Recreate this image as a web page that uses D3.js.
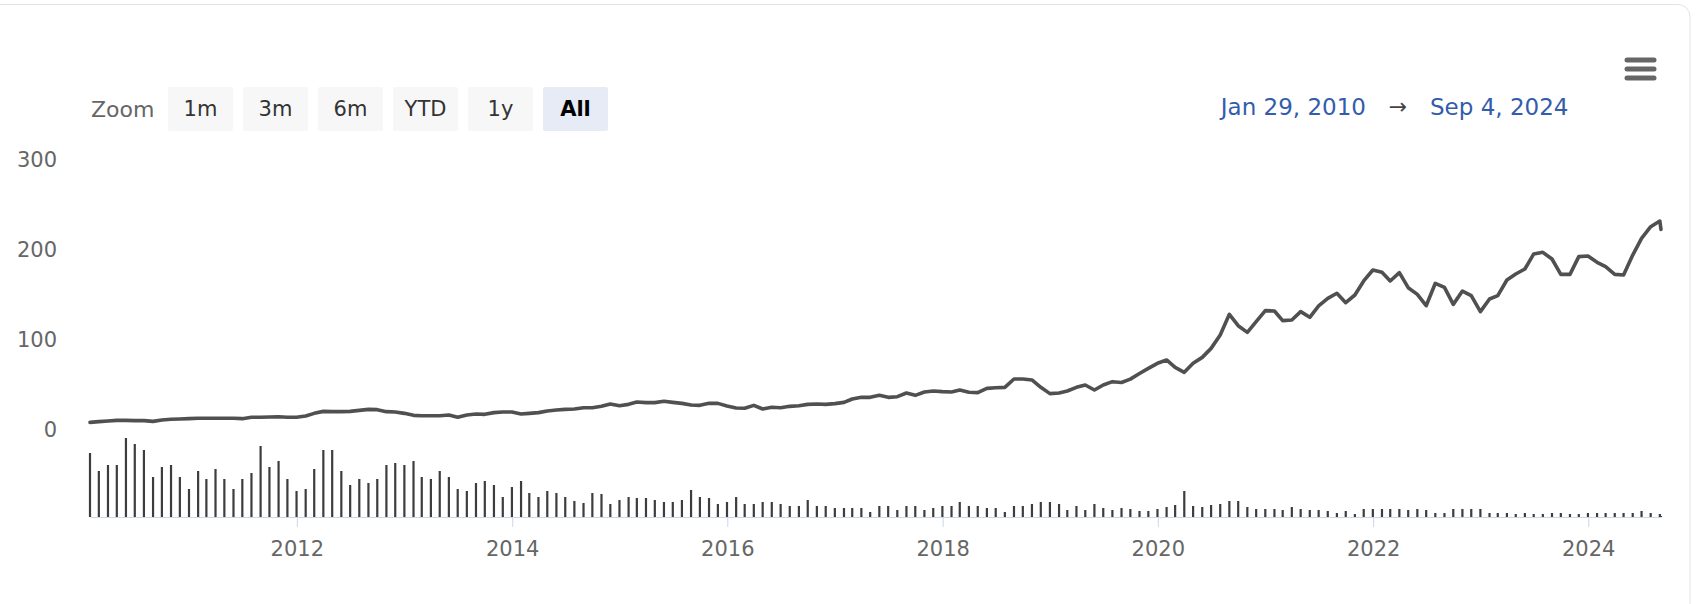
<!DOCTYPE html>
<html>
<head>
<meta charset="utf-8">
<script src="https://cdn.jsdelivr.net/npm/d3@7"></script>
<style>
  body { margin: 0; background: #fff; }
  svg { display: block; font-family: 'DejaVu Sans', sans-serif; }
  .axis text { fill: #666; font-size: 21px; font-family: 'DejaVu Sans', sans-serif; }
  .xAxis path, .xAxis line { stroke: #ccd6eb; }
</style>
</head>
<body>
<div id="chart"></div>
<script>
'use strict';
// Monthly closes, Jan 2010 -> Sep 4 2024 (one per month end)
const closes = [
  8.5, 9.3, 10.0, 10.7, 10.7, 10.4, 10.4, 9.6, 11.1, 11.9, 12.2, 12.6,
  13.0, 13.0, 13.0, 13.0, 13.0, 12.6, 14.1, 14.1, 14.4, 14.8, 14.1, 14.1,
  15.6, 18.5, 20.7, 20.4, 20.4, 20.7, 21.8, 22.9, 22.6, 20.4, 20.0, 18.5,
  16.3, 15.9, 15.9, 15.9, 16.7, 14.1, 16.7, 17.8, 17.4, 19.3, 20.0, 20.0,
  17.8, 18.5, 19.3, 21.1, 22.2, 22.9, 23.3, 24.8, 24.8, 26.3, 28.9, 27.0,
  28.5, 31.1, 30.4, 30.4, 31.9, 30.7, 29.6, 27.8, 27.4, 29.6, 29.6, 26.7,
  24.4, 24.1, 27.4, 23.3, 25.2, 24.8, 26.3, 27.0, 28.5, 28.9, 28.5, 29.3,
  30.7, 34.4, 36.3, 36.3, 38.5, 36.3, 37.0, 41.1, 38.5, 42.2, 43.3, 42.6,
  42.2, 44.4, 41.9, 41.5, 46.3, 47.0, 47.4, 56.7, 56.7, 55.6, 47.4, 40.4,
  41.1, 43.3, 47.4, 50.0, 44.4, 50.0, 53.7, 52.8, 56.5, 62.8, 68.5, 74.1,
  77.8, 69.6, 64.1, 74.1, 80.7, 90.7, 105.6, 128.5, 115.9, 108.5, 120.4, 132.6,
  132.2, 121.5, 122.2, 131.5, 125.2, 137.8, 146.3, 151.9, 141.5, 150.0, 165.6, 177.8,
  175.2, 165.6, 174.8, 158.1, 150.7, 138.1, 163.0, 158.5, 139.6, 154.4, 149.3, 131.5,
  145.6, 149.3, 166.7, 173.3, 178.9, 195.6, 197.4, 190.0, 172.9, 172.9, 192.6, 193.3,
  186.3, 181.5, 172.9, 172.2, 194.4, 213.0, 225.9, 232.2, 222.9
]
// Monthly volume (billions of shares)
const volumes = [
  16.0, 11.5, 13.0, 13.0, 19.75, 18.25, 16.75, 10.0, 12.5, 13.0, 10.0, 7.0,
  11.5, 9.5, 12.0, 9.5, 7.0, 9.5, 11.0, 17.75, 12.5, 14.0, 9.5, 6.5,
  7.0, 12.0, 16.75, 16.75, 11.5, 8.0, 9.5, 8.5, 9.5, 13.0, 13.5, 13.0,
  14.0, 10.0, 9.5, 11.5, 10.0, 7.0, 6.5, 8.5, 9.0, 8.0, 5.0, 7.5,
  9.0, 6.0, 5.0, 6.5, 6.0, 5.0, 4.0, 3.5, 6.0, 5.75, 3.25, 4.25,
  5.0, 4.75, 4.75, 4.25, 3.75, 3.75, 4.25, 6.75, 5.0, 4.75, 3.25, 3.75,
  5.0, 3.25, 3.25, 3.75, 3.75, 3.25, 2.75, 2.75, 4.25, 2.75, 2.75, 2.25,
  2.25, 2.25, 2.25, 1.25, 2.75, 2.75, 1.75, 2.75, 2.75, 1.75, 2.25, 2.75,
  2.75, 3.75, 2.75, 2.75, 2.25, 2.25, 1.25, 2.75, 2.75, 3.25, 3.75, 3.75,
  3.25, 1.75, 2.75, 1.75, 3.25, 2.25, 1.75, 2.25, 2.0, 1.5, 1.5, 2.0,
  2.5, 3.0, 6.5, 2.75, 2.5, 3.0, 3.25, 4.0, 4.0, 2.5, 2.0, 2.0,
  2.0, 1.75, 2.5, 2.0, 1.75, 1.75, 1.5, 1.0, 1.5, 0.75, 2.0, 2.0,
  2.0, 2.0, 2.0, 1.75, 2.0, 1.75, 1.0, 1.0, 2.0, 2.0, 2.0, 2.0,
  1.0, 1.0, 1.0, 0.75, 1.0, 0.75, 0.75, 1.0, 1.0, 0.75, 0.75, 1.0,
  1.0, 1.0, 1.0, 1.0, 1.0, 1.5, 1.0, 0.75, 0.25
]
const firstDay = new Date(2010, 0, 29)
const lastDay = new Date(2024, 8, 4)
const yearTicks = [2012, 2014, 2016, 2018, 2020, 2022, 2024]
const priceTicks = [0, 100, 200, 300]
const zoomButtons = ['1m', '3m', '6m', 'YTD', '1y', 'All']
const selectedButton = 'All'
const rangeLabels = ['Jan 29, 2010', 'Sep 4, 2024']

const width = 1696
const height = 604
const plot = { left: 90, right: 1661, priceTop: 160, priceZero: 430, volTop: 437, volBottom: 517 }

// one point per month end, first and last are the range dates
const dates = closes.map((_, i) => {
  if (i === 0) return firstDay
  if (i === closes.length - 1) return lastDay
  return d3.timeDay.offset(d3.timeMonth.offset(new Date(2010, 1, 1), i), -1)
})
const data = dates.map((d, i) => ({ date: d, close: closes[i], volume: volumes[i] }))

const x = d3.scaleTime().domain([firstDay, lastDay]).range([plot.left, plot.right])
const y = d3.scaleLinear().domain([0, 300]).range([plot.priceZero, plot.priceTop])
const yVol = d3.scaleLinear().domain([0, 20]).range([plot.volBottom, plot.volTop])

const svg = d3.select('#chart')
  .append('svg')
  .attr('width', width)
  .attr('height', height)

// Card border
svg.append('rect')
  .attr('x', -20)
  .attr('y', 4.5)
  .attr('width', 1710)
  .attr('height', 700)
  .attr('rx', 12)
  .attr('fill', '#fff')
  .attr('stroke', '#e3e3e3')

// Range selector buttons
svg.append('text')
  .attr('x', 91)
  .attr('y', 109)
  .attr('dy', '0.35em')
  .attr('fill', '#666')
  .attr('font-size', 22)
  .text('Zoom')

const btn = svg.selectAll('g.btn').data(zoomButtons).enter()
  .append('g')
  .attr('class', 'btn')
  .attr('transform', (d, i) => `translate(${168 + i * 75},87)`)
btn.append('rect')
  .attr('width', 65)
  .attr('height', 44)
  .attr('rx', 2)
  .attr('fill', d => d === selectedButton ? '#e6ebf5' : '#f7f7f7')
btn.append('text')
  .attr('x', 32.5)
  .attr('y', 22)
  .attr('dy', '0.35em')
  .attr('text-anchor', 'middle')
  .attr('font-size', 21)
  .attr('font-weight', d => d === selectedButton ? 'bold' : 'normal')
  .attr('fill', d => d === selectedButton ? '#000' : '#333')
  .text(d => d)

// Date range inputs
svg.append('text')
  .attr('x', 1366)
  .attr('y', 107)
  .attr('dy', '0.35em')
  .attr('text-anchor', 'end')
  .attr('font-size', 23)
  .attr('fill', '#335cad')
  .text(rangeLabels[0])
svg.append('text')
  .attr('x', 1398)
  .attr('y', 106)
  .attr('dy', '0.35em')
  .attr('text-anchor', 'middle')
  .attr('font-size', 22)
  .attr('fill', '#444')
  .text('→')
svg.append('text')
  .attr('x', 1430)
  .attr('y', 107)
  .attr('dy', '0.35em')
  .attr('font-size', 23)
  .attr('fill', '#335cad')
  .text(rangeLabels[1])

// Export menu icon
svg.append('g').selectAll('line').data([0, 1, 2]).enter()
  .append('line')
  .attr('x1', 1627)
  .attr('x2', 1654)
  .attr('y1', d => 60 + d * 9)
  .attr('y2', d => 60 + d * 9)
  .attr('stroke', '#666')
  .attr('stroke-width', 5)
  .attr('stroke-linecap', 'round')

// Draw y axis
svg.append('g')
  .attr('class', 'axis yAxis')
  .attr('transform', 'translate(65,0)')
  .call(d3.axisLeft(y).tickValues(priceTicks).tickSize(0).tickPadding(8))
  .call(g => g.select('.domain').remove())

// Draw x axis
svg.append('g')
  .attr('class', 'axis xAxis')
  .attr('transform', `translate(0,${plot.volBottom})`)
  .call(d3.axisBottom(x)
    .tickValues(yearTicks.map(yr => new Date(yr, 0, 1)))
    .tickFormat(d3.timeFormat('%Y'))
    .tickSize(10)
    .tickSizeOuter(0)
    .tickPadding(14))

// Volume columns
svg.append('g').selectAll('rect').data(data).enter()
  .append('rect')
  .attr('x', d => x(d.date) - 1.1)
  .attr('width', 2.2)
  .attr('y', d => yVol(d.volume))
  .attr('height', d => plot.volBottom - yVol(d.volume))
  .attr('fill', '#3d3d3d')

// Price line
const priceLine = d3.line()
  .x(d => x(d.date))
  .y(d => y(d.close))
svg.append('path').datum(data)
  .attr('d', priceLine)
  .attr('fill', 'none')
  .attr('stroke', '#505050')
  .attr('stroke-width', 3.6)
  .attr('stroke-linejoin', 'round')
  .attr('stroke-linecap', 'round')
</script>
</body>
</html>
